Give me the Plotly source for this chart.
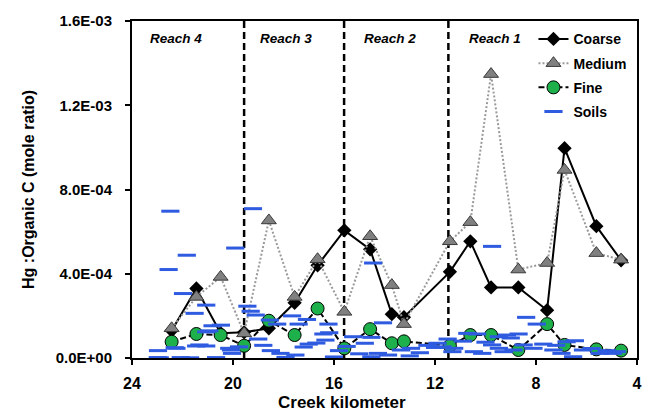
import plotly.graph_objects as go

# ---- data ----
km = [22.43, 21.45, 20.49, 19.56, 18.58, 17.56, 16.65, 15.59, 14.57, 13.71,
      13.23, 11.41, 10.60, 9.78, 8.70, 7.56, 6.87, 5.61, 4.63]
coarse = [1.30e-4, 3.30e-4, 1.18e-4, 1.22e-4, 1.41e-4, 2.62e-4, 4.40e-4, 6.06e-4, 5.16e-4, 2.08e-4,
          1.94e-4, 4.09e-4, 5.54e-4, 3.35e-4, 3.35e-4, 2.27e-4, 9.96e-4, 6.26e-4, 4.64e-4]
medium = [1.41e-4, 2.90e-4, 3.85e-4, 1.17e-4, 6.53e-4, 2.90e-4, 4.69e-4, 2.19e-4, 5.78e-4, 3.46e-4,
          1.61e-4, 5.54e-4, 6.45e-4, 1.348e-3, 4.20e-4, 4.51e-4, 8.93e-4, 4.98e-4, 4.67e-4]
fine = [0.77e-4, 1.14e-4, 1.09e-4, 0.58e-4, 1.77e-4, 1.09e-4, 2.35e-4, 0.46e-4, 1.37e-4, 0.70e-4,
        0.79e-4, 0.58e-4, 1.09e-4, 1.09e-4, 0.38e-4, 1.61e-4, 0.62e-4, 0.41e-4, 0.35e-4]

soil_km = [22.48, 21.83, 22.55, 19.91, 19.21, 21.98, 21.52, 21.06, 20.81, 19.43,
           19.30, 19.10, 18.54, 18.25, 17.66, 17.40, 17.07, 16.22, 16.19, 16.42,
           15.24, 14.78, 14.45, 20.94, 21.33, 21.06, 22.97, 22.24, 22.98, 22.07,
           20.67, 20.04, 20.08, 19.76, 18.12, 17.92, 17.53, 17.20, 17.00, 16.70,
           16.34, 20.48, 21.06, 22.31, 21.46, 20.15, 22.90, 21.70,
           9.74, 14.06, 8.39, 7.97, 9.15, 8.69, 7.71, 6.79, 6.46, 10.33,
           14.52, 14.26, 11.70, 11.24, 11.31, 10.46, 10.13, 9.74, 9.47, 9.28,
           8.89, 8.49, 8.10, 7.31, 6.99, 6.53, 6.14, 5.48, 4.96, 12.95,
           13.34, 13.86, 14.52, 10.72, 9.47, 15.80, 15.50, 15.00, 12.30, 12.00,
           11.90, 11.50, 10.90, 10.00, 9.00, 7.20, 5.80, 5.20, 4.80, 13.00,
           12.60, 16.00, 18.80, 18.50, 19.00]
soil_e4 = [6.97, 4.88, 4.20, 5.22, 7.09, 3.06, 2.12, 2.51, 1.53, 2.46,
           2.22, 2.04, 1.80, 1.61, 2.00, 1.61, 1.83, 1.61, 1.20, 1.14,
           1.01, 0.70, 4.51, 1.29, 0.62, 0.57, 0.35, 0.46, 0.02, 0.02,
           0.02, 0.22, 0.38, 0.53, 0.22, 0.03, 0.14, 0.52, 0.66, 0.71,
           0.85, 1.56, 1.24, 0.49, 0.57, 0.46, 0.01, 0.01,
           5.30, 1.67, 1.93, 1.61, 1.09, 1.14, 0.66, 0.77, 0.82, 1.14,
           0.98, 0.22, 0.53, 0.46, 0.30, 0.30, 0.22, 0.62, 0.46, 0.30,
           0.38, 0.62, 0.46, 0.38, 0.22, 0.06, 0.38, 0.22, 0.22, 0.46,
           0.38, 0.14, 0.06, 1.17, 1.01, 0.35, 0.55, 0.20, 0.60, 0.50,
           0.70, 0.90, 0.80, 0.75, 0.95, 0.60, 0.45, 0.35, 0.30, 0.10,
           0.25, 0.05, 0.60, 0.35, 0.90]
soils = [v * 1e-4 for v in soil_e4]

reach_bounds = [19.56, 15.60, 11.47]
reach_labels = ["Reach 4", "Reach 3", "Reach 2", "Reach 1"]
reach_label_km = [22.27, 17.90, 13.78, 9.62]

y_ticks = [0, 4e-4, 8e-4, 1.2e-3, 1.6e-3]
y_ticktext = ["0.0E+00", "4.0E-04", "8.0E-04", "1.2E-03", "1.6E-03"]
x_ticks = [24, 20, 16, 12, 8, 4]

FONT = "Liberation Sans"

fig = go.Figure()
fig.add_trace(go.Scatter(
    x=km, y=coarse, name="<b>Coarse</b>", mode="lines+markers",
    line=dict(color="black", width=2),
    marker=dict(symbol="diamond", size=11, color="black"),
    legendgroup="a"))
fig.add_trace(go.Scatter(
    x=km, y=medium, name="<b>Medium</b>", mode="lines+markers",
    line=dict(color="#9a9a9a", width=2, dash="2px,2px"),
    marker=dict(symbol="triangle-up", size=13, color="#808080",
                line=dict(color="#3a3a3a", width=1)),
    legendgroup="b"))
fig.add_trace(go.Scatter(
    x=km, y=fine, name="<b>Fine</b>", mode="lines+markers",
    line=dict(color="black", width=2, dash="6px,3px"),
    marker=dict(symbol="circle", size=13, color="#1db04b",
                line=dict(color="black", width=1)),
    legendgroup="c"))
fig.add_trace(go.Scatter(
    x=soil_km, y=soils, name="<b>Soils</b>", mode="markers",
    marker=dict(symbol="line-ew", size=13,
                line=dict(color="#2f5be0", width=3)),
    legendgroup="d"))

for b in reach_bounds:
    fig.add_shape(type="line", xref="x", yref="paper", x0=b, x1=b, y0=0, y1=1,
                  line=dict(color="black", width=2.5, dash="7px,4px"), layer="below")

for lab, xk in zip(reach_labels, reach_label_km):
    fig.add_annotation(x=xk, y=0.947, xref="x", yref="paper", text="<b><i>" + lab + "</i></b>",
                       showarrow=False, font=dict(family=FONT, size=13.5, color="black"),
                       xanchor="center", yanchor="middle")

fig.add_annotation(x=-0.205, y=0.5, xref="paper", yref="paper",
                   text="<b>Hg :Organic C (mole ratio)</b>", textangle=-90,
                   showarrow=False, font=dict(family=FONT, size=16, color="black"),
                   xanchor="center", yanchor="middle")
fig.add_annotation(x=0.415, y=-0.133, xref="paper", yref="paper",
                   text="<b>Creek kilometer</b>",
                   showarrow=False, font=dict(family=FONT, size=17, color="black"),
                   xanchor="center", yanchor="middle")

fig.update_layout(
    width=654, height=417,
    margin=dict(l=132, r=12, t=20, b=59),
    paper_bgcolor="white", plot_bgcolor="white",
    font=dict(family=FONT, color="black"),
    showlegend=True,
    legend=dict(x=0.795, y=0.993, xanchor="left", yanchor="top",
                bgcolor="rgba(0,0,0,0)", font=dict(family=FONT, size=14, color="black"),
                traceorder="grouped", tracegroupgap=3, itemwidth=30),
    xaxis=dict(range=[24, 4], tickvals=x_ticks, ticktext=["<b>%d</b>" % t for t in x_ticks],
               tickfont=dict(family=FONT, size=16, color="black"),
               showgrid=False, zeroline=False, showline=True, linecolor="black", linewidth=2,
               mirror=True, ticks="outside", ticklen=5, tickwidth=2, tickcolor="black",
               ticklabelstandoff=5),
    yaxis=dict(range=[0, 1.6e-3], tickvals=y_ticks, ticktext=["<b>%s</b>" % t for t in y_ticktext],
               tickfont=dict(family=FONT, size=15, color="black"),
               showgrid=False, zeroline=False, showline=True, linecolor="black", linewidth=2,
               mirror=True, ticks="outside", ticklen=5, tickwidth=2, tickcolor="black",
               ticklabelstandoff=10),
)

fig.write_html("out.html")
